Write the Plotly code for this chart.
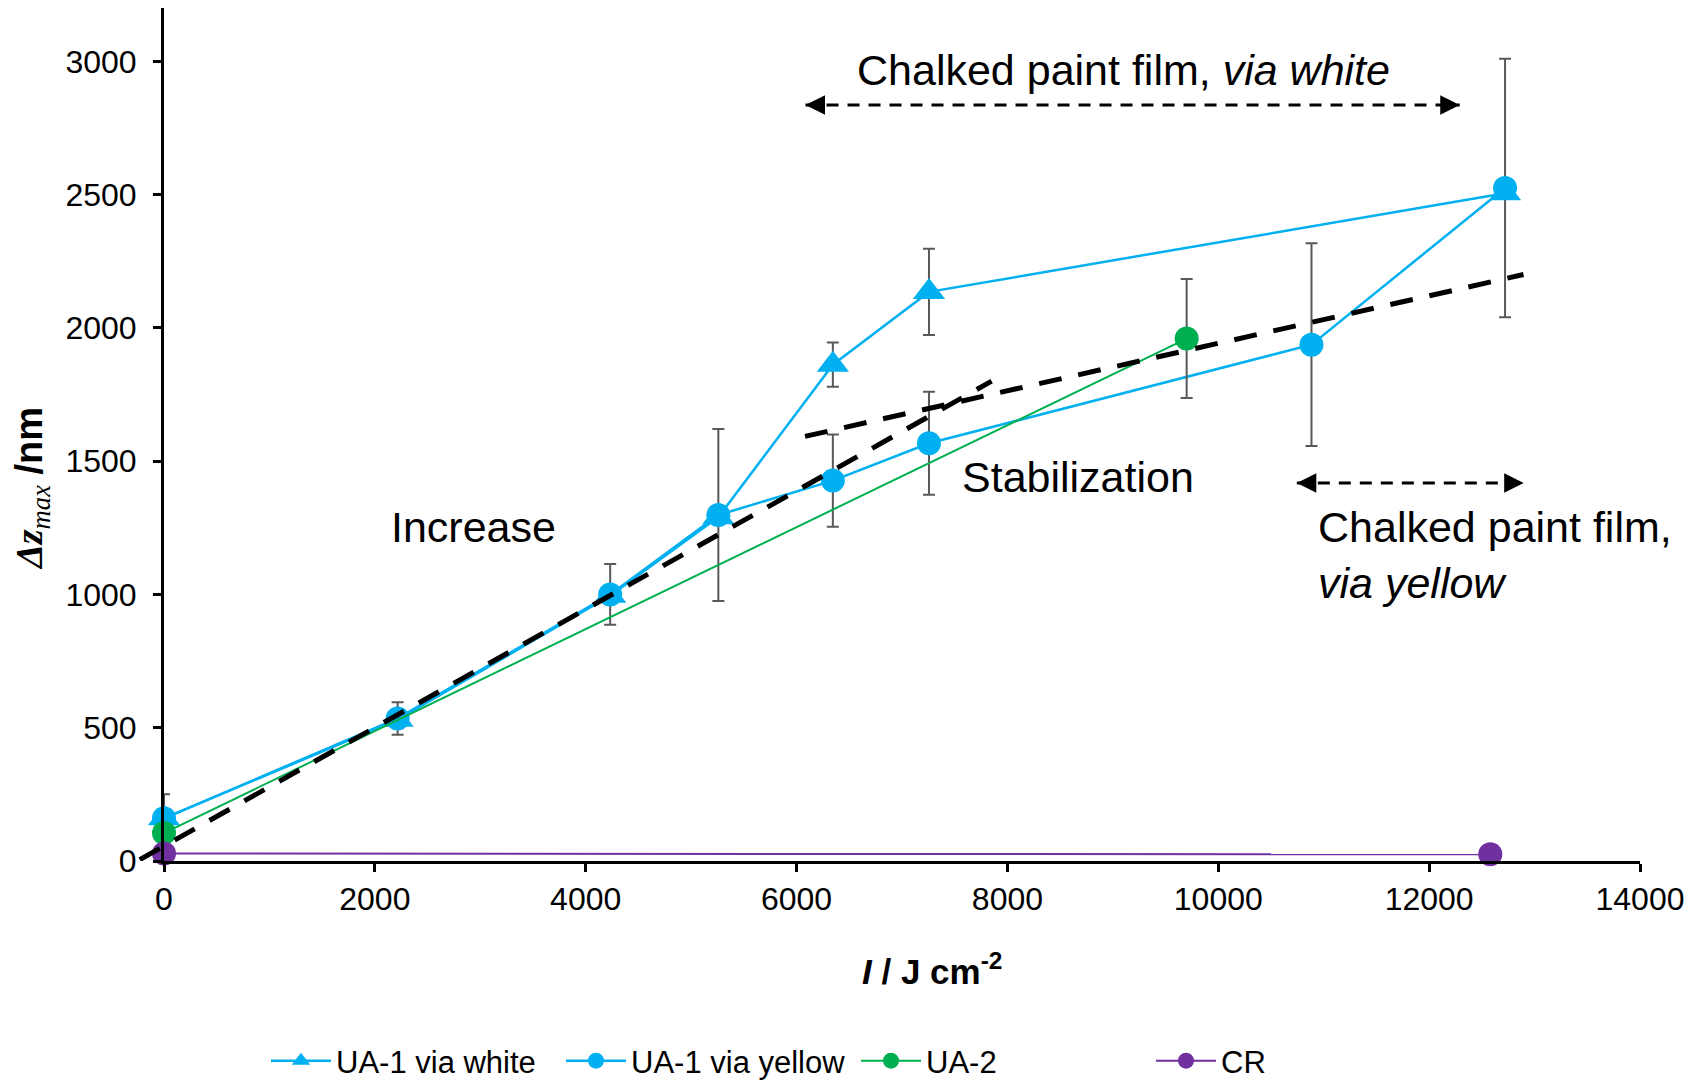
import plotly.graph_objects as go

# ---------------- data ----------------
white_x = [0, 2216, 4232, 5258, 6344, 7256, 12720]
white_y = [160, 530, 995, 1290, 1862, 2135, 2505]
white_err = [0, 0, 0, 0, 83, 162, 0]

yellow_x = [0, 2216, 4232, 5258, 6344, 7256, 10884, 12720]
yellow_y = [160, 535, 1000, 1298, 1427, 1567, 1937, 2525]
yellow_err = [90, 61, 114, 323, 173, 193, 380, 485]

ua2_x = [0, 9700]
ua2_y = [105, 1960]
ua2_err = [0, 223]

cr_x = [0, 12580]
cr_y = [28, 25]

increase_x = [-230, 7850]
increase_y = [5, 1800]
stab_x = [6080, 12895]
stab_y = [1593, 2200]

white_arrow_x = [6085, 12290]
white_arrow_y = [2836, 2836]
yellow_arrow_x = [10745, 12897]
yellow_arrow_y = [1418, 1418]

x_ticks = [0, 2000, 4000, 6000, 8000, 10000, 12000, 14000]
x_ticktext = ["0", "2000", "4000", "6000", "8000", "10000", "12000", "14000"]
y_ticks = [0, 500, 1000, 1500, 2000, 2500, 3000]
y_ticktext = ["0", "500", "1000", "1500", "2000", "2500", "3000"]

# ---------------- layout geometry ----------------
W, H = 1694, 1083
ML, MR, MT, MB = 100, 54, 8, 222
PX0, PX1 = 164, 1640          # pixel positions of x = 0 and x = 14000
plot_w = W - ML - MR
plot_h = H - MT - MB
XMAX, YMAX = 14000, 3200
XMIN2 = -400
ppu = (PX1 - PX0) / XMAX
dom_main = [(PX0 - ML) / plot_w, 1]
dom_ext = [(PX0 - ML - (-XMIN2) * ppu) / plot_w, 1]


def px(xpix):
    return (xpix - ML) / plot_w


def py(ypix):
    return (H - MB - ypix) / plot_h


FONT = "Arial, 'Liberation Sans', sans-serif"
BLUE = "#00B0F0"
GREEN = "#00B050"
PURPLE = "#7030A0"
ERRC = "#595959"

fig = go.Figure()

fig.add_trace(go.Scatter(
    x=white_x, y=white_y, name="UA-1 via white", mode="lines+markers",
    line=dict(color=BLUE, width=2.5),
    marker=dict(symbol="triangle-up", size=28, color=BLUE),
    error_y=dict(type="data", array=white_err, color=ERRC, thickness=2, width=6),
    cliponaxis=False,
))
fig.add_trace(go.Scatter(
    x=yellow_x, y=yellow_y, name="UA-1 via yellow", mode="lines+markers",
    line=dict(color=BLUE, width=2.5),
    marker=dict(symbol="circle", size=24, color=BLUE),
    error_y=dict(type="data", array=yellow_err, color=ERRC, thickness=2, width=6),
    cliponaxis=False,
))
fig.add_trace(go.Scatter(
    x=ua2_x, y=ua2_y, name="UA-2", mode="lines+markers",
    line=dict(color=GREEN, width=2),
    marker=dict(symbol="circle", size=24, color=GREEN),
    error_y=dict(type="data", array=ua2_err, color=ERRC, thickness=2, width=6),
    cliponaxis=False,
))
fig.add_trace(go.Scatter(
    x=cr_x, y=cr_y, name="CR", mode="lines+markers",
    line=dict(color=PURPLE, width=2),
    marker=dict(symbol="circle", size=24, color=PURPLE),
    cliponaxis=False,
))

# trend lines (on an extended, invisible x axis with identical scale)
for tx, ty in [(increase_x, increase_y), (stab_x, stab_y)]:
    fig.add_trace(go.Scatter(
        x=tx, y=ty, xaxis="x2", yaxis="y", mode="lines",
        line=dict(color="black", width=5, dash="23px,17px"), showlegend=False,
        hoverinfo="skip",
    ))

# dashed arrow shafts
for ax_, ay_ in [(white_arrow_x, white_arrow_y), (yellow_arrow_x, yellow_arrow_y)]:
    fig.add_trace(go.Scatter(
        x=ax_, y=ay_, mode="lines", showlegend=False, hoverinfo="skip",
        line=dict(color="black", width=3, dash="12px,9px"),
    ))

annotations = []
# arrow heads
for ax_, ay_ in [(white_arrow_x, white_arrow_y), (yellow_arrow_x, yellow_arrow_y)]:
    for i, off in [(0, 18), (1, -18)]:
        annotations.append(dict(
            x=ax_[i], y=ay_[i], xref="x", yref="y", ax=off, ay=0, text="",
            showarrow=True, arrowhead=2, arrowsize=1.3, arrowwidth=3,
            arrowcolor="black",
        ))

TXT = dict(family=FONT, size=43, color="black")
annotations += [
    dict(x=9100, y=2967, xref="x", yref="y", text="Chalked paint film, <i>via white</i>",
         showarrow=False, font=TXT, xanchor="center", yanchor="middle"),
    dict(x=2935, y=1253, xref="x", yref="y", text="Increase",
         showarrow=False, font=TXT, xanchor="center", yanchor="middle"),
    dict(x=8666, y=1442, xref="x", yref="y", text="Stabilization",
         showarrow=False, font=TXT, xanchor="center", yanchor="middle"),
    dict(x=10923, y=1148, xref="x", yref="y", text="Chalked paint film,<br><i>via yellow</i>",
         showarrow=False, font=TXT, xanchor="left", yanchor="middle", align="left"),
    # axis titles
    dict(x=px(932), y=py(969), xref="paper", yref="paper",
         text="<b><i>I</i> / J cm<sup>-2</sup></b>",
         showarrow=False, font=dict(family=FONT, size=35, color="black"),
         xanchor="center", yanchor="middle"),
    dict(x=px(32), y=py(489), xref="paper", yref="paper", textangle=-90,
         text="<span style=\"font-family:'Liberation Serif','Times New Roman',serif\"><b><i>Δz</i></b>"
              "<sub><i>max</i></sub></span><b> /nm</b>",
         showarrow=False, font=dict(family=FONT, size=38, color="black"),
         xanchor="center", yanchor="middle"),
]

fig.update_layout(
    width=W, height=H,
    margin=dict(l=ML, r=MR, t=MT, b=MB, autoexpand=False),
    paper_bgcolor="white", plot_bgcolor="rgba(0,0,0,0)",
    font=dict(family=FONT, size=32, color="black"),
    showlegend=True,
    legend=dict(orientation="h", x=px(266), y=py(1061), xanchor="left", yanchor="middle",
                font=dict(family=FONT, size=31, color="black"), itemwidth=60,
                entrywidth=220, entrywidthmode="pixels",
                traceorder="normal", bgcolor="rgba(0,0,0,0)"),
    xaxis=dict(domain=dom_main, range=[0, XMAX], tickvals=x_ticks, ticktext=x_ticktext,
               showline=True, linecolor="black", linewidth=3, mirror=False,
               ticks="outside", ticklen=8, tickwidth=3, tickcolor="black",
               showgrid=False, zeroline=False, anchor="y",
               tickfont=dict(family=FONT, size=32, color="black")),
    xaxis2=dict(domain=dom_ext, range=[XMIN2, XMAX], visible=False, anchor="y",
                showgrid=False, zeroline=False),
    yaxis=dict(domain=[0, 1], range=[0, YMAX], tickvals=y_ticks, ticktext=y_ticktext,
               showline=True, linecolor="black", linewidth=3,
               ticks="outside", ticklen=8, tickwidth=3, tickcolor="black",
               ticklabelstandoff=10,
               showgrid=False, zeroline=False, anchor="x",
               tickfont=dict(family=FONT, size=32, color="black")),
    annotations=annotations,
)

fig.write_html("out.html")
